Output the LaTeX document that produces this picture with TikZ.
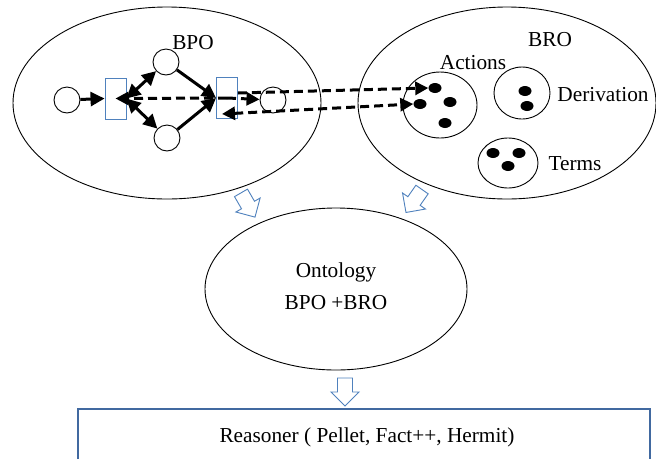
\documentclass[tikz,border=0pt]{standalone}
\usepackage{fontspec}
\setmainfont{Liberation Serif}
\usetikzlibrary{arrows.meta,calc,shapes.geometric}
\definecolor{bblue}{RGB}{79,129,189}
\definecolor{boxblue}{RGB}{65,105,160}
\begin{document}
\begin{tikzpicture}[x=1pt,y=-1pt,
  lbl/.style={font=\fontsize{21.3}{25}\selectfont, inner sep=0pt},
  bigell/.style={draw=black, ellipse, line width=0.9pt, inner sep=0pt},
  place/.style={draw=black, circle, line width=0.9pt, minimum size=26pt, inner sep=0pt},
  trans/.style={draw=bblue, rectangle, line width=0.9pt, minimum width=21pt, minimum height=41pt, inner sep=0pt},
  subset/.style={draw=black, ellipse, line width=0.9pt, inner sep=0pt},
  tok/.style={fill=black, ellipse, minimum width=13pt, minimum height=10pt, inner sep=0pt},
  thickarr/.style={line width=3pt, -{Triangle[length=14pt,width=14pt]}},
  thickboth/.style={line width=3pt, {Triangle[length=14pt,width=14pt]}-{Triangle[length=14pt,width=14pt]}},
  dasharr/.style={line width=3pt, dash pattern=on 9pt off 5pt, -{Triangle[length=13pt,width=13pt]}},
  dashboth/.style={line width=3pt, dash pattern=on 9pt off 5pt, {Triangle[length=13pt,width=13pt]}-{Triangle[length=13pt,width=13pt]}},
  blockarr/.style={draw=bblue, line width=0.9pt, fill=white, line join=miter},
  boxline/.style={draw=boxblue, line width=1.4pt}]
\useasboundingbox (0,0) rectangle (656,459);

% main ellipses
\node[bigell, minimum width=308pt, minimum height=192pt] (bpo) at (167,103) {};
\node[bigell, minimum width=298pt, minimum height=192pt] (bro) at (507,103) {};
\node[bigell, minimum width=262pt, minimum height=162pt] (onto) at (336,289) {};

% labels
\node[lbl] (bpolbl) at (193,43) {BPO};
\node[lbl] (brolbl) at (550,40) {BRO};
\node[lbl] (actlbl) at (473,63) {Actions};
\node[lbl] (derlbl) at (603,95) {Derivation};
\node[lbl] (terlbl) at (575,164) {Terms};
\node[lbl] (ontlbl) at (336,272) {Ontology};
\node[lbl] (ontlbl2) at (336,303) {BPO +BRO};
\node[lbl] (reaslbl) at (367,437) {Reasoner ( Pellet, Fact++, Hermit)};

% BPO petri net
\node[place] (c1) at (67,100) {};
\node[place] (ct) at (166,62) {};
\node[place] (cb) at (167,138) {};
\node[place] (c3) at (273,100) {};
\node[trans] (r1) at (115.5,98.5) {};
\node[trans] (r2) at (227,98) {};

% BRO subsets
\node[subset, minimum width=74pt, minimum height=66pt] (act) at (440,105) {};
\node[subset, minimum width=56pt, minimum height=52pt] (der) at (522,93) {};
\node[subset, minimum width=60pt, minimum height=50pt] (ter) at (508,163) {};

\node[tok] (a1) at (435,88) {};
\node[tok] (a2) at (420,104) {};
\node[tok] (a3) at (450,102) {};
\node[tok] (a4) at (445,123) {};
\node[tok] (d1) at (525,91) {};
\node[tok] (d2) at (527,106) {};
\node[tok] (t1) at (493,153) {};
\node[tok] (t2) at (519,153) {};
\node[tok] (t3) at (508,166) {};

% solid arrows
\draw[thickarr] (c1) -- (r1.west);
\draw[thickboth] (r1.east) -- (ct);
\draw[thickboth] (r1.east) -- (cb);
\draw[thickarr] (ct) -- (r2.west);
\draw[thickarr] (cb) -- (r2.west);

% dashed arrows
\draw[dasharr] (r2.center) -- (r1.center);
\draw[dasharr] (r2.center) -- (c3);
\draw[dasharr] ($(r2.east)+(0,-5)$) -- (a1.west);
\draw[dashboth] ($(r2.center)+(-5,16)$) -- (a2.west);

% hollow block arrows
\draw[blockarr, shift={(248,205)}, rotate=30]
  (-7.5,-14) -- (7.5,-14) -- (7.5,0) -- (14,0) -- (0,14) -- (-14,0) -- (-7.5,0) -- cycle;
\draw[blockarr, shift={(414,201)}, rotate=-35]
  (-7.5,-14) -- (7.5,-14) -- (7.5,0) -- (14,0) -- (0,14) -- (-14,0) -- (-7.5,0) -- cycle;
\draw[blockarr, shift={(345,392)}]
  (-7.5,-14) -- (7.5,-14) -- (7.5,0) -- (14,0) -- (0,14) -- (-14,0) -- (-7.5,0) -- cycle;

% reasoner box (extends below the picture)
\coordinate (bl) at (78,459);
\coordinate (br) at (650,459);
\draw[boxline] (bl) -- (78,409) -- (650,409) -- (br);
\end{tikzpicture}
\end{document}
